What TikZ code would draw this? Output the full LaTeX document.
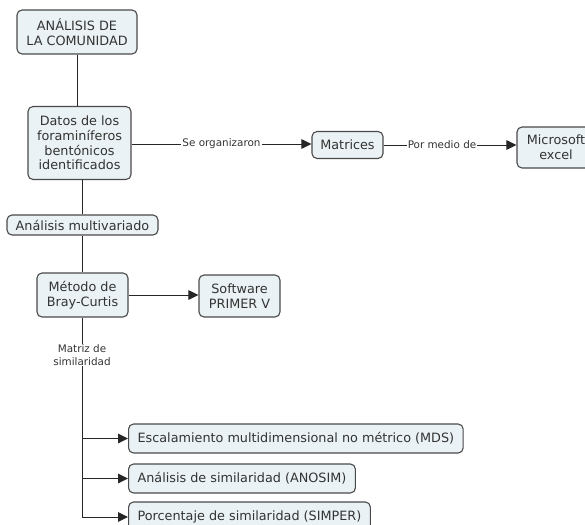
\documentclass[tikz,border=0pt]{standalone}
\usepackage{fontspec}
\setmainfont{DejaVu Sans}
\usetikzlibrary{arrows.meta}
\definecolor{boxfill}{HTML}{EAF2F5}
\definecolor{boxline}{HTML}{4A4A4A}
\definecolor{txt}{HTML}{333333}
\tikzset{
  cbox/.style={draw=boxline, fill=boxfill, rounded corners=5pt, line width=1.1pt,
    align=center, text=txt, inner sep=0pt,
    font=\fontsize{12.8}{14.6}\selectfont},
  wbox/.style={cbox, inner xsep=9pt, anchor=west},
  lbl/.style={fill=white, text=txt, inner sep=1pt, align=center,
    font=\fontsize{10.4}{12.3}\selectfont},
  conn/.style={draw=black!85, line width=1pt},
  arr/.style={conn, -{Triangle[length=10pt,width=9.5pt]}}
}
\begin{document}
\begin{tikzpicture}[x=1pt,y=-1pt]
\clip (0,0) rectangle (585,524);
\fill[white] (0,0) rectangle (585,524);
\node[cbox, minimum width=120, minimum height=44] (comunidad) at (77,32) {ANÁLISIS DE\\LA COMUNIDAD};
\node[cbox, minimum width=103, minimum height=73] (datos) at (79.5,143) {Datos de los\\foraminíferos\\bentónicos\\identificados};
\node[cbox, minimum width=151, minimum height=20] (multi) at (82.5,225) {Análisis multivariado};
\node[cbox, minimum width=71, minimum height=27] (matrices) at (347.5,145) {Matrices};
\node[cbox, minimum width=78, minimum height=41] (excel) at (556,147.5) {Microsoft\\excel};
\node[cbox, minimum width=91, minimum height=44] (metodo) at (82.5,295) {Método de\\Bray-Curtis};
\node[cbox, minimum width=81, minimum height=42] (primer) at (239.5,296) {Software\\PRIMER V};
\node[wbox, minimum height=29] (mds) at (128,438.5) {Escalamiento multidimensional no métrico (MDS)};
\node[wbox, minimum height=29] (anosim) at (128,478.5) {Análisis de similaridad (ANOSIM)};
\node[wbox, minimum height=30] (simper) at (128,517) {Porcentaje de similaridad (SIMPER)};
\coordinate (b1) at (82,438.5);
\coordinate (b2) at (82,478.5);
\coordinate (b3) at (82,517);
\draw[conn] (comunidad.south) -- (comunidad.south |- datos.north);
\draw[conn] (multi.north) -- (multi.north |- datos.south);
\draw[conn] (metodo.north) -- (metodo.north |- multi.south);
\draw[arr] (datos.east |- 0,144) -- node[lbl]{Se organizaron} (matrices.west |- 0,144);
\draw[arr] (matrices.east) -- node[lbl,pos=0.44]{Por medio de} (excel.west |- matrices.east);
\draw[arr] (metodo.east) -- (primer.west |- metodo.east);
\draw[conn] (metodo.south -| b3) -- (b3);
\node[lbl] (matriz) at (82,355) {Matriz de\\similaridad};
\draw[arr] (b1) -- (mds.west);
\draw[arr] (b2) -- (anosim.west);
\draw[arr] (b3) -- (simper.west);
\end{tikzpicture}
\end{document}
